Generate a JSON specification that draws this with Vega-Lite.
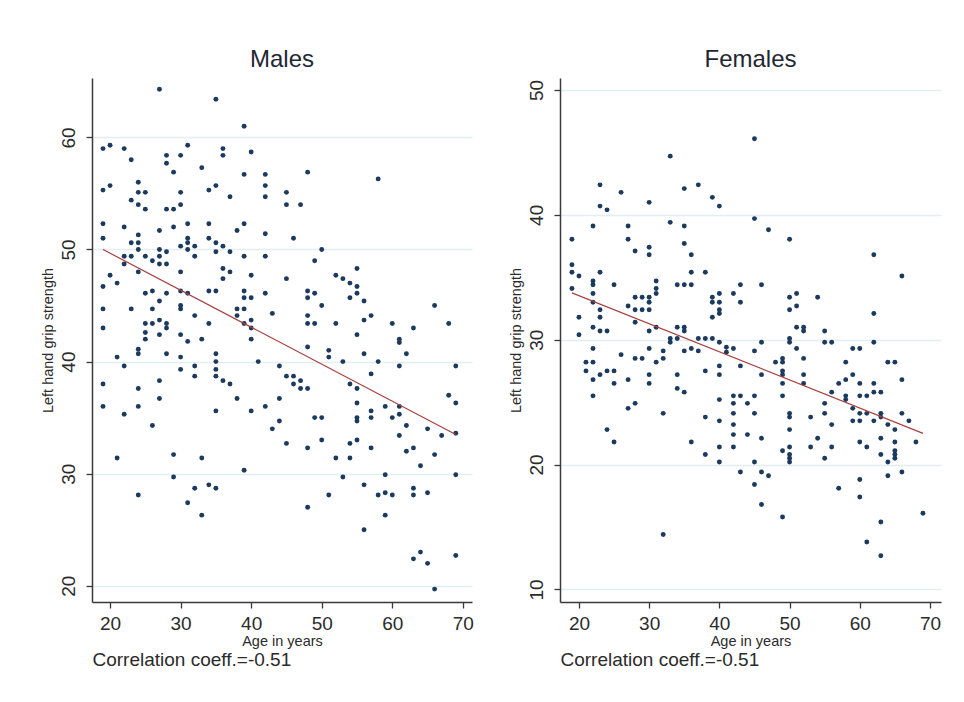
{
  "$schema": "https://vega.github.io/schema/vega-lite/v6.json",
  "background": "white",
  "padding": {"left": 40, "top": 48, "right": 20, "bottom": 20},
  "spacing": 34,
  "config": {
    "font": "Liberation Sans",
    "view": {"stroke": null},
    "axis": {
      "domainColor": "#3a3a3a",
      "domainWidth": 1.5,
      "tickColor": "#3a3a3a",
      "tickWidth": 1.3,
      "tickSize": 6,
      "labelFontSize": 19,
      "labelColor": "#2b2b2b",
      "labelPadding": 6,
      "titleFontSize": 14.5,
      "titleFontWeight": "normal",
      "titleColor": "#2b2b2b",
      "gridColor": "#e3eef0",
      "gridWidth": 1.5
    },
    "axisY": {"labelAngle": -90, "labelAlign": "center", "labelBaseline": "bottom", "titlePadding": 4, "labelPadding": 8},
    "axisX": {"titlePadding": 1},
    "title": {"fontSize": 24, "fontWeight": "normal", "color": "#1f2733", "offset": 6, "anchor": "middle"}
  },
  "datasets": {
    "males": [
      {"age":19,"grip":59.0},{"age":19,"grip":55.3},{"age":19,"grip":52.3},{"age":19,"grip":51.0},{"age":19,"grip":46.7},{"age":19,"grip":44.7},{"age":19,"grip":43.0},{"age":19,"grip":38.0},{"age":19,"grip":36.0},
      {"age":20,"grip":59.3},{"age":20,"grip":55.7},{"age":20,"grip":47.7},
      {"age":21,"grip":47.0},{"age":21,"grip":40.4},{"age":21,"grip":31.4},
      {"age":22,"grip":59.0},{"age":22,"grip":52.0},{"age":22,"grip":49.4},{"age":22,"grip":48.7},{"age":22,"grip":39.6},{"age":22,"grip":35.3},
      {"age":23,"grip":58.0},{"age":23,"grip":54.4},{"age":23,"grip":50.6},{"age":23,"grip":49.4},{"age":23,"grip":44.7},
      {"age":24,"grip":56.0},{"age":24,"grip":55.1},{"age":24,"grip":54.0},{"age":24,"grip":51.3},{"age":24,"grip":50.6},{"age":24,"grip":50.0},{"age":24,"grip":48.0},{"age":24,"grip":41.1},{"age":24,"grip":40.7},{"age":24,"grip":37.6},{"age":24,"grip":36.0},{"age":24,"grip":28.1},
      {"age":25,"grip":55.1},{"age":25,"grip":53.6},{"age":25,"grip":49.4},{"age":25,"grip":46.1},{"age":25,"grip":43.4},{"age":25,"grip":42.6},{"age":25,"grip":42.0},
      {"age":26,"grip":49.0},{"age":26,"grip":46.3},{"age":26,"grip":44.7},{"age":26,"grip":43.4},{"age":26,"grip":34.3},
      {"age":27,"grip":64.3},{"age":27,"grip":51.7},{"age":27,"grip":50.0},{"age":27,"grip":49.4},{"age":27,"grip":48.7},{"age":27,"grip":45.4},{"age":27,"grip":43.7},{"age":27,"grip":42.4},{"age":27,"grip":38.3},{"age":27,"grip":36.7},
      {"age":28,"grip":58.4},{"age":28,"grip":57.7},{"age":28,"grip":53.6},{"age":28,"grip":49.8},{"age":28,"grip":48.7},{"age":28,"grip":46.1},{"age":28,"grip":43.4},{"age":28,"grip":43.0},{"age":28,"grip":40.7},
      {"age":29,"grip":56.9},{"age":29,"grip":53.6},{"age":29,"grip":52.0},{"age":29,"grip":31.7},{"age":29,"grip":29.7},
      {"age":30,"grip":58.4},{"age":30,"grip":55.1},{"age":30,"grip":54.0},{"age":30,"grip":50.3},{"age":30,"grip":48.0},{"age":30,"grip":46.3},{"age":30,"grip":45.0},{"age":30,"grip":44.7},{"age":30,"grip":42.4},{"age":30,"grip":40.4},{"age":30,"grip":39.3},
      {"age":31,"grip":59.3},{"age":31,"grip":52.3},{"age":31,"grip":51.0},{"age":31,"grip":50.6},{"age":31,"grip":50.0},{"age":31,"grip":46.1},{"age":31,"grip":41.8},{"age":31,"grip":27.4},
      {"age":32,"grip":50.3},{"age":32,"grip":49.4},{"age":32,"grip":44.1},{"age":32,"grip":39.6},{"age":32,"grip":38.7},{"age":32,"grip":28.7},
      {"age":33,"grip":57.3},{"age":33,"grip":42.0},{"age":33,"grip":31.4},{"age":33,"grip":26.3},
      {"age":34,"grip":55.3},{"age":34,"grip":52.3},{"age":34,"grip":51.0},{"age":34,"grip":46.3},{"age":34,"grip":43.4},{"age":34,"grip":29.0},
      {"age":35,"grip":63.4},{"age":35,"grip":55.7},{"age":35,"grip":50.6},{"age":35,"grip":49.8},{"age":35,"grip":46.3},{"age":35,"grip":40.7},{"age":35,"grip":40.0},{"age":35,"grip":39.3},{"age":35,"grip":38.7},{"age":35,"grip":35.6},{"age":35,"grip":28.7},
      {"age":36,"grip":59.0},{"age":36,"grip":58.4},{"age":36,"grip":50.3},{"age":36,"grip":48.3},{"age":36,"grip":47.4},{"age":36,"grip":38.3},
      {"age":37,"grip":54.7},{"age":37,"grip":49.8},{"age":37,"grip":48.0},{"age":37,"grip":38.0},
      {"age":38,"grip":51.7},{"age":38,"grip":44.7},{"age":38,"grip":44.1},{"age":38,"grip":36.7},
      {"age":39,"grip":61.0},{"age":39,"grip":56.7},{"age":39,"grip":52.3},{"age":39,"grip":49.4},{"age":39,"grip":46.3},{"age":39,"grip":45.7},{"age":39,"grip":44.7},{"age":39,"grip":43.4},{"age":39,"grip":30.3},
      {"age":40,"grip":58.7},{"age":40,"grip":47.7},{"age":40,"grip":45.7},{"age":40,"grip":43.7},{"age":40,"grip":43.0},{"age":40,"grip":42.0},{"age":40,"grip":35.6},
      {"age":41,"grip":40.0},
      {"age":42,"grip":56.7},{"age":42,"grip":55.7},{"age":42,"grip":54.7},{"age":42,"grip":51.4},{"age":42,"grip":49.4},{"age":42,"grip":46.1},{"age":42,"grip":36.0},
      {"age":43,"grip":44.3},{"age":43,"grip":34.0},
      {"age":44,"grip":39.6},{"age":44,"grip":36.7},{"age":44,"grip":34.7},
      {"age":45,"grip":55.1},{"age":45,"grip":54.0},{"age":45,"grip":47.4},{"age":45,"grip":38.7},{"age":45,"grip":32.7},
      {"age":46,"grip":51.0},{"age":46,"grip":38.7},{"age":46,"grip":38.0},
      {"age":47,"grip":54.0},{"age":47,"grip":38.3},{"age":47,"grip":37.6},
      {"age":48,"grip":56.9},{"age":48,"grip":46.3},{"age":48,"grip":45.7},{"age":48,"grip":44.1},{"age":48,"grip":43.4},{"age":48,"grip":41.3},{"age":48,"grip":37.6},{"age":48,"grip":32.3},{"age":48,"grip":27.0},
      {"age":49,"grip":49.0},{"age":49,"grip":46.1},{"age":49,"grip":43.4},{"age":49,"grip":35.0},
      {"age":50,"grip":50.0},{"age":50,"grip":45.0},{"age":50,"grip":35.0},{"age":50,"grip":33.0},
      {"age":51,"grip":41.0},{"age":51,"grip":40.4},{"age":51,"grip":28.1},
      {"age":52,"grip":47.7},{"age":52,"grip":43.4},{"age":52,"grip":31.4},
      {"age":53,"grip":47.4},{"age":53,"grip":40.0},{"age":53,"grip":29.7},
      {"age":54,"grip":47.0},{"age":54,"grip":45.7},{"age":54,"grip":38.0},{"age":54,"grip":32.7},{"age":54,"grip":31.4},
      {"age":55,"grip":48.3},{"age":55,"grip":46.7},{"age":55,"grip":46.1},{"age":55,"grip":42.4},{"age":55,"grip":37.6},{"age":55,"grip":36.3},{"age":55,"grip":35.0},{"age":55,"grip":34.7},{"age":55,"grip":33.0},
      {"age":56,"grip":45.4},{"age":56,"grip":43.7},{"age":56,"grip":40.7},{"age":56,"grip":29.0},{"age":56,"grip":25.0},
      {"age":57,"grip":44.1},{"age":57,"grip":38.9},{"age":57,"grip":35.6},{"age":57,"grip":35.0},{"age":57,"grip":32.3},
      {"age":58,"grip":56.3},{"age":58,"grip":40.0},{"age":58,"grip":28.1},
      {"age":59,"grip":36.0},{"age":59,"grip":29.9},{"age":59,"grip":28.3},{"age":59,"grip":26.3},
      {"age":60,"grip":43.4},{"age":60,"grip":35.0},{"age":60,"grip":28.1},
      {"age":61,"grip":42.0},{"age":61,"grip":41.7},{"age":61,"grip":39.6},{"age":61,"grip":36.0},{"age":61,"grip":35.3},{"age":61,"grip":33.4},
      {"age":62,"grip":40.7},{"age":62,"grip":34.3},{"age":62,"grip":32.0},
      {"age":63,"grip":43.0},{"age":63,"grip":32.3},{"age":63,"grip":28.7},{"age":63,"grip":28.1},{"age":63,"grip":22.4},
      {"age":64,"grip":30.7},{"age":64,"grip":23.0},
      {"age":65,"grip":34.0},{"age":65,"grip":28.3},{"age":65,"grip":22.0},
      {"age":66,"grip":45.0},{"age":66,"grip":31.7},{"age":66,"grip":19.7},
      {"age":67,"grip":33.4},
      {"age":68,"grip":43.4},{"age":68,"grip":37.0},
      {"age":69,"grip":39.6},{"age":69,"grip":36.3},{"age":69,"grip":33.6},{"age":69,"grip":29.9},{"age":69,"grip":22.7}
    ],
    "females": [
      {"age":19,"grip":38.05},{"age":19,"grip":36.0},{"age":19,"grip":35.4},{"age":19,"grip":34.1},
      {"age":20,"grip":35.1},{"age":20,"grip":31.8},{"age":20,"grip":30.4},
      {"age":21,"grip":28.2},{"age":21,"grip":27.5},
      {"age":22,"grip":39.1},{"age":22,"grip":34.7},{"age":22,"grip":34.4},{"age":22,"grip":33.7},{"age":22,"grip":33.0},{"age":22,"grip":31.0},{"age":22,"grip":29.3},{"age":22,"grip":28.2},{"age":22,"grip":26.8},{"age":22,"grip":25.5},
      {"age":23,"grip":42.4},{"age":23,"grip":40.7},{"age":23,"grip":35.4},{"age":23,"grip":32.4},{"age":23,"grip":31.8},{"age":23,"grip":30.7},{"age":23,"grip":27.2},
      {"age":24,"grip":40.4},{"age":24,"grip":30.7},{"age":24,"grip":27.5},{"age":24,"grip":22.8},
      {"age":25,"grip":34.4},{"age":25,"grip":27.5},{"age":25,"grip":26.5},{"age":25,"grip":21.8},
      {"age":26,"grip":41.8},{"age":26,"grip":28.8},
      {"age":27,"grip":39.1},{"age":27,"grip":38.05},{"age":27,"grip":32.7},{"age":27,"grip":26.8},{"age":27,"grip":24.5},
      {"age":28,"grip":37.1},{"age":28,"grip":33.4},{"age":28,"grip":32.4},{"age":28,"grip":31.4},{"age":28,"grip":28.5},{"age":28,"grip":24.9},
      {"age":29,"grip":33.4},{"age":29,"grip":32.4},{"age":29,"grip":28.5},
      {"age":30,"grip":41.0},{"age":30,"grip":37.4},{"age":30,"grip":36.8},{"age":30,"grip":33.4},{"age":30,"grip":33.0},{"age":30,"grip":32.4},{"age":30,"grip":30.7},{"age":30,"grip":29.3},{"age":30,"grip":27.2},{"age":30,"grip":26.5},
      {"age":31,"grip":34.7},{"age":31,"grip":34.1},{"age":31,"grip":33.7},{"age":31,"grip":31.0},{"age":31,"grip":28.2},
      {"age":32,"grip":29.1},{"age":32,"grip":28.5},{"age":32,"grip":24.1},{"age":32,"grip":14.4},
      {"age":33,"grip":44.7},{"age":33,"grip":39.4},{"age":33,"grip":30.1},{"age":33,"grip":29.8},
      {"age":34,"grip":34.4},{"age":34,"grip":31.0},{"age":34,"grip":30.1},{"age":34,"grip":27.2},{"age":34,"grip":26.1},
      {"age":35,"grip":42.1},{"age":35,"grip":39.1},{"age":35,"grip":37.7},{"age":35,"grip":34.4},{"age":35,"grip":31.0},{"age":35,"grip":30.7},{"age":35,"grip":29.1},{"age":35,"grip":25.8},
      {"age":36,"grip":36.8},{"age":36,"grip":35.4},{"age":36,"grip":34.4},{"age":36,"grip":29.3},{"age":36,"grip":21.8},
      {"age":37,"grip":42.4},{"age":37,"grip":30.1},{"age":37,"grip":29.1},
      {"age":38,"grip":35.4},{"age":38,"grip":30.1},{"age":38,"grip":27.5},{"age":38,"grip":23.8},{"age":38,"grip":20.8},
      {"age":39,"grip":41.4},{"age":39,"grip":33.4},{"age":39,"grip":33.0},{"age":39,"grip":31.8},{"age":39,"grip":30.1},
      {"age":40,"grip":40.7},{"age":40,"grip":33.7},{"age":40,"grip":33.0},{"age":40,"grip":32.4},{"age":40,"grip":32.1},{"age":40,"grip":29.8},{"age":40,"grip":27.9},{"age":40,"grip":27.2},{"age":40,"grip":25.2},{"age":40,"grip":23.5},{"age":40,"grip":21.4},{"age":40,"grip":20.2},
      {"age":41,"grip":29.4},{"age":41,"grip":29.0},
      {"age":42,"grip":33.7},{"age":42,"grip":29.3},{"age":42,"grip":25.5},{"age":42,"grip":24.9},{"age":42,"grip":24.1},{"age":42,"grip":23.2},{"age":42,"grip":22.4},{"age":42,"grip":21.4},
      {"age":43,"grip":34.4},{"age":43,"grip":33.0},{"age":43,"grip":27.9},{"age":43,"grip":25.5},{"age":43,"grip":19.4},
      {"age":44,"grip":24.9},{"age":44,"grip":22.4},
      {"age":45,"grip":46.1},{"age":45,"grip":39.7},{"age":45,"grip":29.1},{"age":45,"grip":25.5},{"age":45,"grip":24.1},{"age":45,"grip":20.2},{"age":45,"grip":18.4},
      {"age":46,"grip":34.4},{"age":46,"grip":29.8},{"age":46,"grip":27.2},{"age":46,"grip":22.1},{"age":46,"grip":19.4},{"age":46,"grip":16.8},
      {"age":47,"grip":38.8},{"age":47,"grip":19.1},
      {"age":48,"grip":28.2},
      {"age":49,"grip":28.5},{"age":49,"grip":28.2},{"age":49,"grip":27.5},{"age":49,"grip":27.2},{"age":49,"grip":26.5},{"age":49,"grip":25.5},{"age":49,"grip":21.1},{"age":49,"grip":15.8},
      {"age":50,"grip":38.05},{"age":50,"grip":33.4},{"age":50,"grip":32.4},{"age":50,"grip":30.1},{"age":50,"grip":29.8},{"age":50,"grip":24.1},{"age":50,"grip":23.8},{"age":50,"grip":22.8},{"age":50,"grip":21.4},{"age":50,"grip":20.8},{"age":50,"grip":20.5},{"age":50,"grip":20.2},
      {"age":51,"grip":33.7},{"age":51,"grip":32.7},{"age":51,"grip":31.0},{"age":51,"grip":29.3},
      {"age":52,"grip":31.0},{"age":52,"grip":30.7},{"age":52,"grip":28.5},{"age":52,"grip":27.2},{"age":52,"grip":26.5},
      {"age":53,"grip":23.8},{"age":53,"grip":21.4},
      {"age":54,"grip":33.4},{"age":54,"grip":22.1},
      {"age":55,"grip":30.7},{"age":55,"grip":29.8},{"age":55,"grip":24.9},{"age":55,"grip":24.1},{"age":55,"grip":20.5},
      {"age":56,"grip":29.8},{"age":56,"grip":25.8},{"age":56,"grip":23.2},{"age":56,"grip":21.4},
      {"age":57,"grip":26.5},{"age":57,"grip":18.1},
      {"age":58,"grip":28.2},{"age":58,"grip":26.8},{"age":58,"grip":25.5},{"age":58,"grip":25.2},
      {"age":59,"grip":29.3},{"age":59,"grip":27.2},{"age":59,"grip":24.5},{"age":59,"grip":23.5},
      {"age":60,"grip":29.3},{"age":60,"grip":26.5},{"age":60,"grip":25.5},{"age":60,"grip":24.1},{"age":60,"grip":23.5},{"age":60,"grip":21.8},{"age":60,"grip":18.8},{"age":60,"grip":17.4},
      {"age":61,"grip":25.5},{"age":61,"grip":24.1},{"age":61,"grip":21.4},{"age":61,"grip":13.8},
      {"age":62,"grip":36.8},{"age":62,"grip":32.1},{"age":62,"grip":29.8},{"age":62,"grip":26.5},{"age":62,"grip":25.8},{"age":62,"grip":23.5},
      {"age":63,"grip":25.8},{"age":63,"grip":24.1},{"age":63,"grip":23.8},{"age":63,"grip":22.1},{"age":63,"grip":20.8},{"age":63,"grip":15.4},{"age":63,"grip":12.7},
      {"age":64,"grip":28.2},{"age":64,"grip":23.2},{"age":64,"grip":20.2},{"age":64,"grip":19.1},
      {"age":65,"grip":28.2},{"age":65,"grip":22.8},{"age":65,"grip":21.8},{"age":65,"grip":21.1},{"age":65,"grip":20.8},{"age":65,"grip":20.5},
      {"age":66,"grip":35.1},{"age":66,"grip":26.8},{"age":66,"grip":24.1},{"age":66,"grip":19.4},
      {"age":67,"grip":23.5},
      {"age":68,"grip":21.8},
      {"age":69,"grip":16.1}
    ],
    "males_fit": [{"age":19,"grip":50.0},{"age":69,"grip":33.5}],
    "females_fit": [{"age":19,"grip":33.75},{"age":69,"grip":22.5}]
  },
  "hconcat": [
    {
      "width": 380,
      "height": 524,
      "title": {"text": "Males"},
      "layer": [
        {
          "data": {"name": "males"},
          "mark": {"type": "circle", "size": 24, "color": "#1b3a5e", "opacity": 1},
          "encoding": {
            "x": {"field": "age", "type": "quantitative", "scale": {"domain": [17.44, 71.3], "nice": false, "zero": false},
                  "axis": {"orient": "bottom", "title": "Age in years", "values": [20, 30, 40, 50, 60, 70], "grid": false}},
            "y": {"field": "grip", "type": "quantitative", "scale": {"domain": [18.55, 65.3], "nice": false, "zero": false},
                  "axis": {"title": "Left hand grip strength", "values": [20, 30, 40, 50, 60], "grid": true}}
          }
        },
        {
          "data": {"name": "males_fit"},
          "mark": {"type": "line", "color": "#a9403f", "strokeWidth": 1.2},
          "encoding": {
            "x": {"field": "age", "type": "quantitative",
                  "axis": {"orient": "bottom", "title": "Correlation coeff.=-0.51", "labels": false, "ticks": false, "domain": false, "grid": false,
                           "titleAnchor": "start", "titleAlign": "left", "titleFontSize": 19, "titlePadding": 0, "offset": 48}},
            "y": {"field": "grip", "type": "quantitative"}
          }
        }
      ],
      "resolve": {"axis": {"x": "independent"}}
    },
    {
      "width": 381,
      "height": 524,
      "title": {"text": "Females"},
      "layer": [
        {
          "data": {"name": "females"},
          "mark": {"type": "circle", "size": 24, "color": "#1b3a5e", "opacity": 1},
          "encoding": {
            "x": {"field": "age", "type": "quantitative", "scale": {"domain": [17.3, 71.57], "nice": false, "zero": false},
                  "axis": {"orient": "bottom", "title": "Age in years", "values": [20, 30, 40, 50, 60, 70], "grid": false}},
            "y": {"field": "grip", "type": "quantitative", "scale": {"domain": [8.99, 50.96], "nice": false, "zero": false},
                  "axis": {"title": "Left hand grip strength", "values": [10, 20, 30, 40, 50], "grid": true}}
          }
        },
        {
          "data": {"name": "females_fit"},
          "mark": {"type": "line", "color": "#a9403f", "strokeWidth": 1.2},
          "encoding": {
            "x": {"field": "age", "type": "quantitative",
                  "axis": {"orient": "bottom", "title": "Correlation coeff.=-0.51", "labels": false, "ticks": false, "domain": false, "grid": false,
                           "titleAnchor": "start", "titleAlign": "left", "titleFontSize": 19, "titlePadding": 0, "offset": 48}},
            "y": {"field": "grip", "type": "quantitative"}
          }
        }
      ],
      "resolve": {"axis": {"x": "independent"}}
    }
  ]
}
